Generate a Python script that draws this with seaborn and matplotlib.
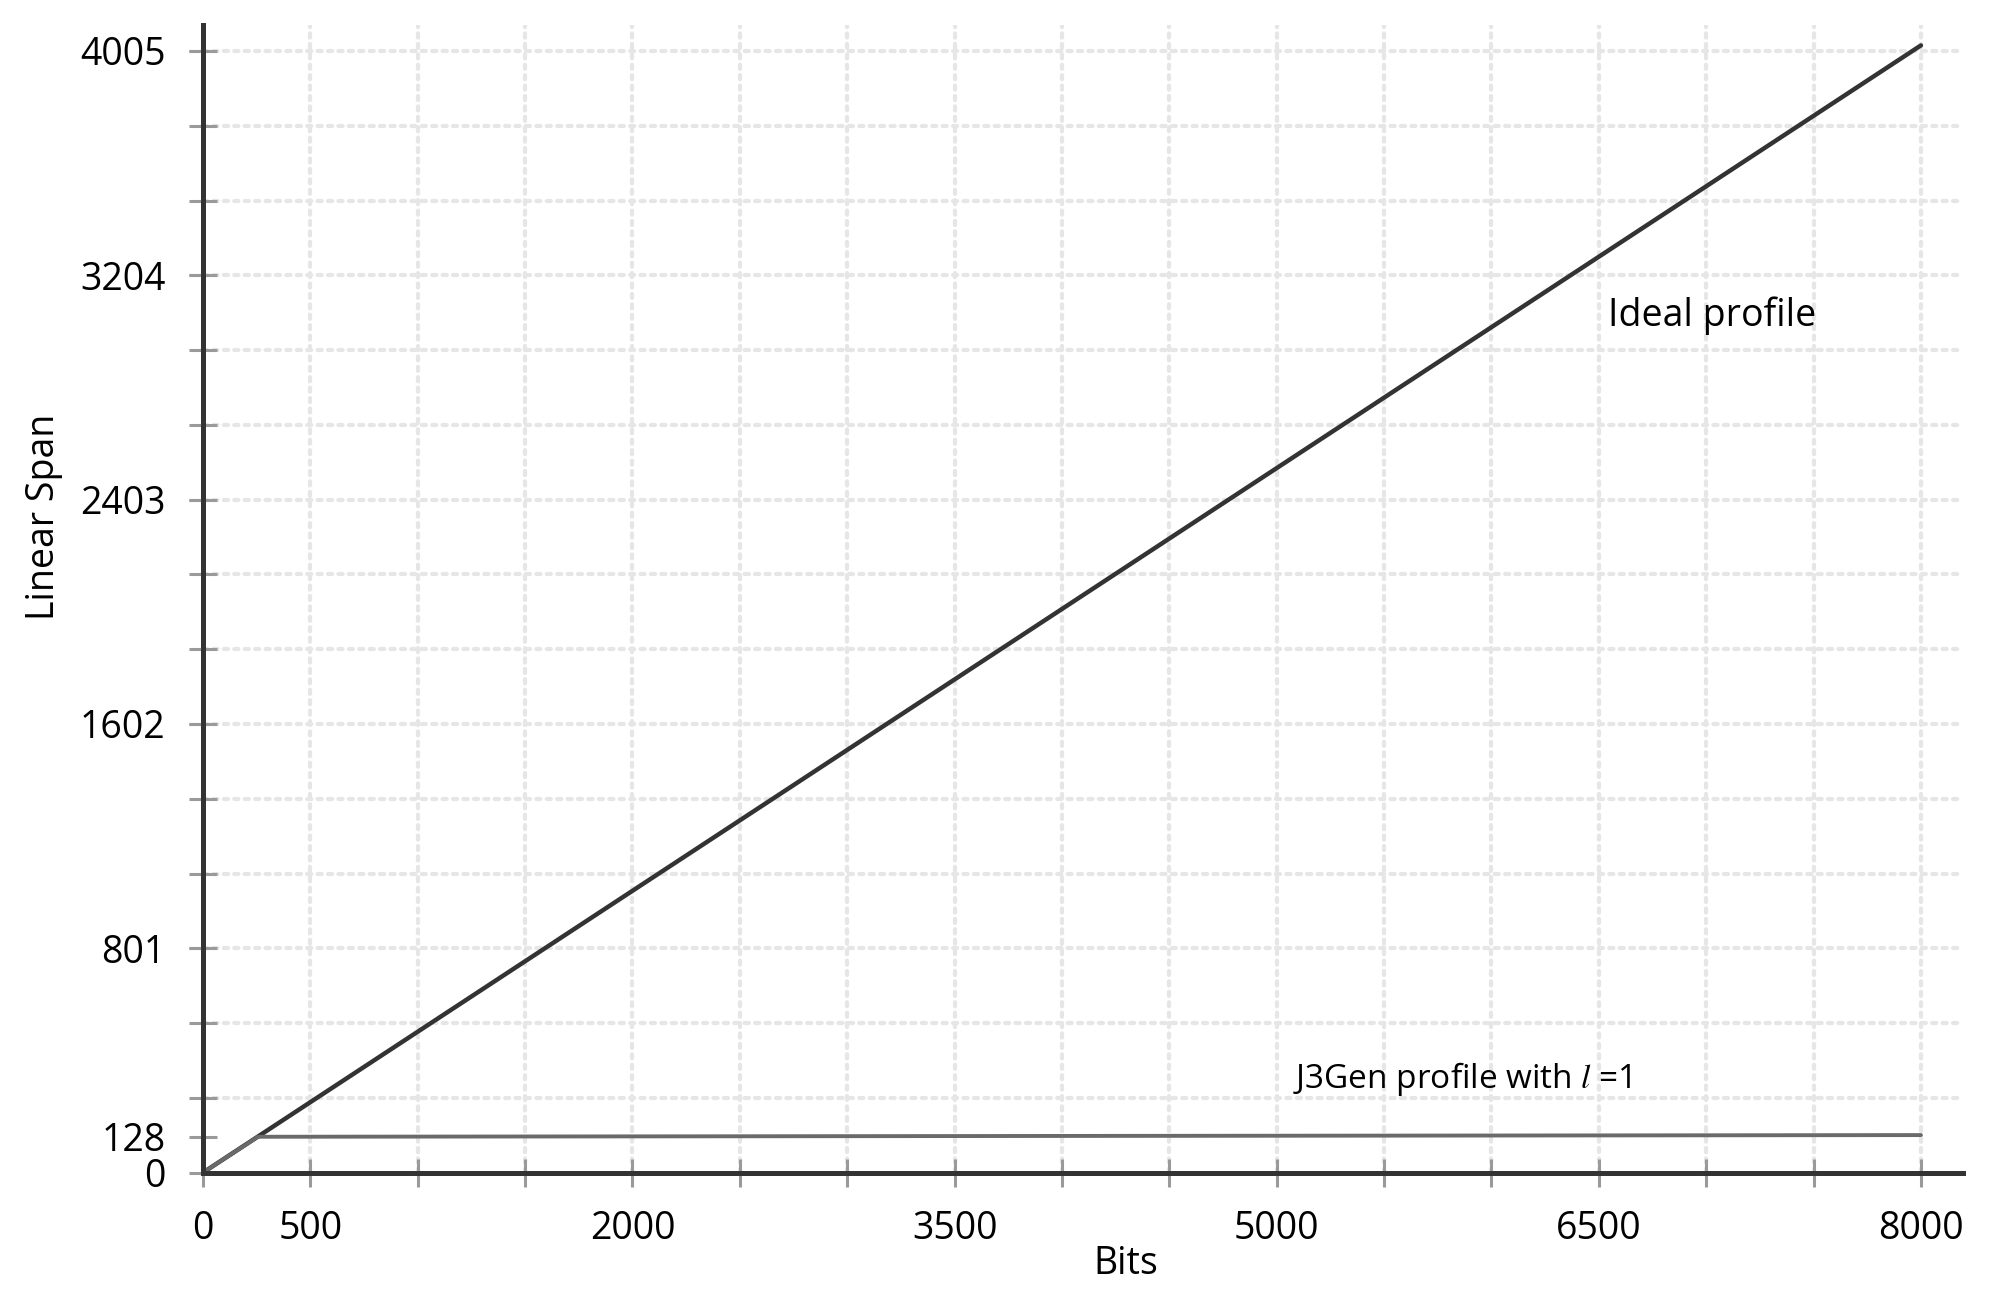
import numpy as np
import pandas as pd
import seaborn as sns
import matplotlib.pyplot as plt
from matplotlib.ticker import FixedLocator, FixedFormatter

sns.set_theme(style="white")
plt.rcParams['font.family'] = ['Open Sans', 'DejaVu Sans']
plt.rcParams['mathtext.fontset'] = 'stix'

# --- data ---
ideal_bits = [0, 8000]
ideal_span = [0, 4025]
j3gen_bits = [0, 256, 8000]
j3gen_span = [0, 128, 134]

x_ticks = list(range(0, 8001, 500))
x_labels = ['0', '500', '', '', '2000', '', '', '3500', '', '', '5000', '', '', '6500', '', '', '8000']
y_ticks = [0, 128, 801, 1602, 2403, 3204, 4005]
y_labels = ['0', '128', '801', '1602', '2403', '3204', '4005']
y_grid = [267 * k for k in range(1, 16)]

df_ideal = pd.DataFrame({'Bits': ideal_bits, 'Span': ideal_span})
df_j3 = pd.DataFrame({'Bits': j3gen_bits, 'Span': j3gen_span})

fig = plt.figure(figsize=(19.98, 12.99), dpi=100)
ax = fig.add_axes([0.1016, 0.0973, 0.8809, 0.8835])

sns.lineplot(data=df_ideal, x='Bits', y='Span', ax=ax, color='#333333', lw=3.2, zorder=3)
sns.lineplot(data=df_j3, x='Bits', y='Span', ax=ax, color='#6a6a6a', lw=2.8, zorder=4)

ax.set_xlim(0, 8196)
ax.set_ylim(0, 4098)

# ticks
ax.xaxis.set_major_locator(FixedLocator(x_ticks))
ax.xaxis.set_major_formatter(FixedFormatter(x_labels))
ax.yaxis.set_major_locator(FixedLocator(y_ticks))
ax.yaxis.set_major_formatter(FixedFormatter(y_labels))
ax.yaxis.set_minor_locator(FixedLocator(y_grid))
ax.yaxis.remove_overlapping_locs = False

ax.tick_params(axis='both', which='both', direction='inout', length=20, width=2.2,
               color='#9a9a9a', labelsize=27, labelcolor='black', pad=17,
               bottom=True, left=True)
ax.tick_params(axis='y', which='minor', length=20)

# dotted grid
grid_kw = dict(color='#e6e6e6', lw=3, linestyle=(0, (1, 1.5)), dash_capstyle='round', zorder=0)
ax.grid(False)
ax.xaxis.grid(True, which='major', **grid_kw)
ax.yaxis.grid(True, which='minor', **grid_kw)
ax.set_axisbelow(True)

for s in ['top', 'right']:
    ax.spines[s].set_visible(False)
for s in ['left', 'bottom']:
    ax.spines[s].set_color('#333333')
    ax.spines[s].set_linewidth(3.6)
    ax.spines[s].set_zorder(5)

ax.set_xlabel('Bits', fontsize=27, color='black')
ax.xaxis.set_label_coords(0.524, -0.063)
ax.set_ylabel('Linear Span', fontsize=27, color='black', va='center')
ax.yaxis.set_label_coords(-0.0903, 0.571)

ax.text(6543, 3059, 'Ideal profile', fontsize=27, va='center', ha='left', color='black')
ax.text(5076, 335, 'J3Gen profile with $l$ =1', fontsize=24, va='center', ha='left', color='black')

plt.savefig('out.png', dpi=100)
